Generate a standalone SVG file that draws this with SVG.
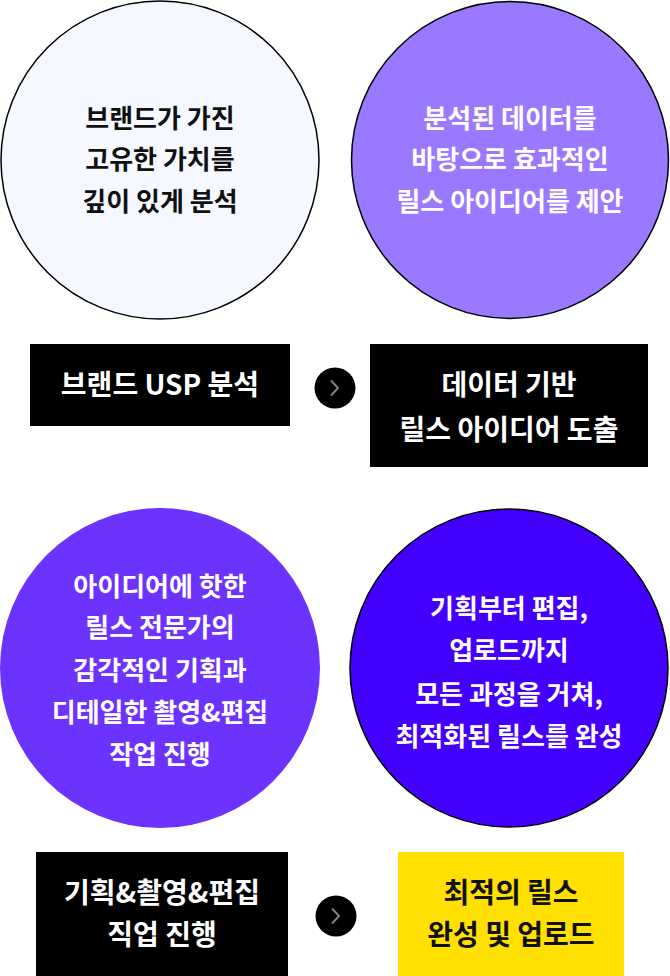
<svg xmlns="http://www.w3.org/2000/svg" width="670" height="976" viewBox="0 0 670 976">
<style>
text{font-family:"Noto Sans CJK KR","Noto Sans",sans-serif;font-weight:700;text-anchor:middle}
.c{font-size:26px}
.b{font-size:28px}
.w{fill:#ffffff}
.k{fill:#111111}
.arrowbg{fill:#000000}
.chev{fill:none;stroke:#808080;stroke-width:2;stroke-linecap:round;stroke-linejoin:round}
</style>
<rect width="670" height="976" fill="#ffffff"/>
<g id="circle-brand-value">
<circle cx="160" cy="160" r="159" fill="#f5f8ff" stroke="#000" stroke-width="1.5"/>
<text class="c k" x="160" y="128">브랜드가 가진</text>
<text class="c k" x="160" y="169">고유한 가치를</text>
<text class="c k" x="160" y="211">깊이 있게 분석</text>
</g>
<g id="circle-data-idea">
<circle cx="510" cy="160" r="158.5" fill="#9a78ff" stroke="#000" stroke-width="1.5"/>
<text class="c w" x="510" y="128">분석된 데이터를</text>
<text class="c w" x="510" y="169">바탕으로 효과적인</text>
<text class="c w" x="510" y="211">릴스 아이디어를 제안</text>
</g>
<g id="box-usp">
<rect x="30" y="344" width="260" height="82" fill="#000"/>
<text class="b w" x="160" y="395">브랜드 USP 분석</text>
</g>
<g id="box-idea">
<rect x="370" y="344" width="278" height="123" fill="#000"/>
<text class="b w" x="509" y="395">데이터 기반</text>
<text class="b w" x="509" y="440">릴스 아이디어 도출</text>
</g>
<g id="circle-expert">
<circle cx="160" cy="668" r="160" fill="#6c33ff"/>
<text class="c w" x="160" y="596">아이디어에 핫한</text>
<text class="c w" x="160" y="637">릴스 전문가의</text>
<text class="c w" x="160" y="680">감각적인 기획과</text>
<text class="c w" x="160" y="722">디테일한 촬영&amp;편집</text>
<text class="c w" x="160" y="764">작업 진행</text>
</g>
<g id="circle-complete">
<circle cx="509" cy="668" r="159" fill="#4400ff" stroke="#000" stroke-width="1.5"/>
<text class="c w" x="509" y="618">기획부터 편집,</text>
<text class="c w" x="509" y="660">업로드까지</text>
<text class="c w" x="509" y="704">모든 과정을 거쳐,</text>
<text class="c w" x="509" y="746">최적화된 릴스를 완성</text>
</g>
<g id="box-production">
<rect x="36" y="852" width="252" height="124" fill="#000"/>
<text class="b w" x="162" y="903">기획&amp;촬영&amp;편집</text>
<text class="b w" x="162" y="945">직업 진행</text>
</g>
<g id="box-upload">
<rect x="398" y="852" width="226" height="124" fill="#ffe000"/>
<text class="b k" x="511" y="903">최적의 릴스</text>
<text class="b k" x="511" y="945">완성 및 업로드</text>
</g>
<g id="connectors">
<circle class="arrowbg" cx="335" cy="388" r="20.5"/>
<polyline class="chev" points="331.5,381 338,388 331.5,395"/>
<circle class="arrowbg" cx="336" cy="916" r="20.5"/>
<polyline class="chev" points="332.5,909 339,916 332.5,923"/>
</g>
</svg>
